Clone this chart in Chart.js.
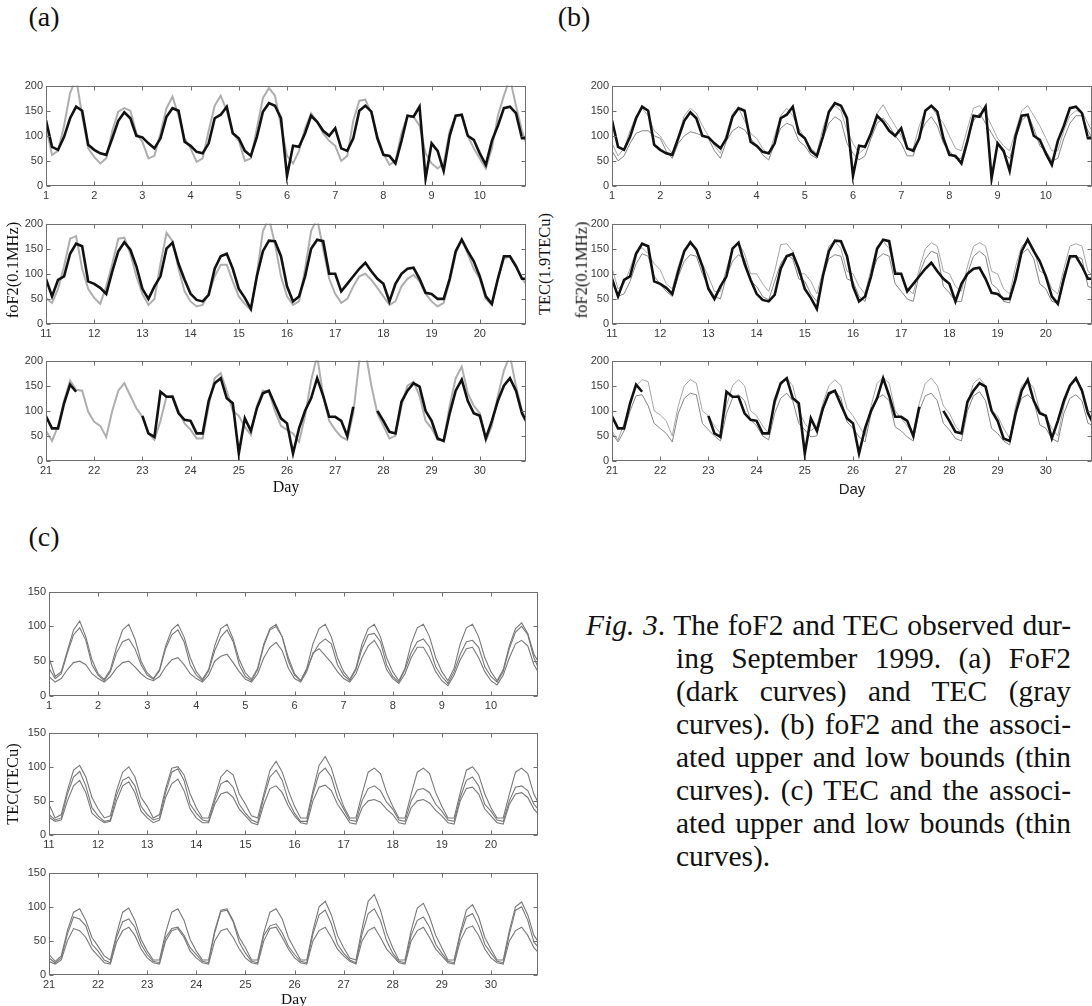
<!DOCTYPE html>
<html>
<head>
<meta charset="utf-8">
<script src="https://cdn.jsdelivr.net/npm/chart.js@4/dist/chart.umd.min.js"></script>
<style>
  body { margin: 0; width: 1092px; height: 1006px; overflow: hidden; background: #fff; position: relative; }
  canvas { position: absolute; }
  .serif { position: absolute; font-family: "Liberation Serif", "Times New Roman", serif; color: #111; white-space: nowrap; line-height: 1; }
  .sans { position: absolute; font-family: "Liberation Sans", Arial, sans-serif; color: #222; white-space: nowrap; line-height: 1; }
  .centered { transform: translate(-50%, -50%); }
  .vertical { transform: translate(-50%, -50%) rotate(-90deg); }
  .capline { position: absolute; font-family: "Liberation Serif", "Times New Roman", serif; font-size: 29.5px; line-height: 33px; color: #111; white-space: nowrap; text-align: justify; text-align-last: justify; }
</style>
</head>
<body>
<script>
// samples every 3 hours, 81 per ten-day row
const samplesPerDay = 8
const rowStarts = [1, 11, 21]
const dayTicks1 = [1, 2, 3, 4, 5, 6, 7, 8, 9, 10]
const dayTicks2 = [11, 12, 13, 14, 15, 16, 17, 18, 19, 20]
const dayTicks3 = [21, 22, 23, 24, 25, 26, 27, 28, 29, 30]
const foF2Ticks = [0, 50, 100, 150, 200]
const tecTicks = [0, 50, 100, 150]

// foF2 (0.1 MHz), shared by (a) and (b)
const foF2_1 = [
  131, 78, 72, 98, 135, 158, 150, 82,
  72, 65, 62, 95, 130, 147, 135, 100,
  97, 85, 75, 95, 138, 155, 150, 88,
  80, 68, 65, 85, 135, 142, 158, 105,
  95, 70, 60, 98, 148, 165, 160, 135,
  20, 80, 78, 105, 140, 128, 110, 100,
  115, 75, 70, 95, 150, 160, 148, 95,
  62, 60, 45, 90, 140, 138, 158, 15,
  85, 70, 30, 100, 140, 142, 100, 92,
  65, 42, 90, 120, 155, 158, 145, 95,
  95]
const foF2_2 = [
  90, 55, 88, 95, 140, 160, 155, 85,
  80, 72, 60, 105, 145, 163, 148, 115,
  70, 50, 75, 95, 150, 162, 120, 88,
  60, 48, 45, 58, 110, 135, 140, 110,
  70, 52, 30, 95, 145, 166, 165, 135,
  75, 45, 55, 95, 150, 168, 165, 100,
  100, 65, 80, 95, 110, 122, 105, 90,
  80, 45, 80, 100, 110, 112, 90, 62,
  60, 50, 50, 90, 145, 168, 145, 125,
  95, 55, 40, 90, 135, 135, 115, 90,
  90]
const foF2_3 = [
  89, 65, 65, 115, 152, 138, null, null,
  null, null, null, null, null, null, null, null,
  90, 55, 48, 138, 128, 128, 95, 82,
  80, 55, 55, 120, 155, 165, 125, 115,
  15, 85, 60, 105, 135, 140, 112, 85,
  75, 15, 65, 100, 125, 165, 130, 88,
  88, 80, 50, 108, null, null, null, 100,
  80, 58, 55, 118, 140, 155, 148, 100,
  80, 45, 40, 95, 140, 162, 120, 95,
  90, 45, 80, 120, 150, 165, 140, 95,
  72]

// TEC in 1.9 TECu, gray curves of (a)
const tecA_1 = [
  120, 62, 70, 120, 185, 215, 140, 75,
  58, 45, 55, 110, 148, 155, 150, 105,
  88, 55, 60, 105, 155, 178, 140, 95,
  75, 48, 55, 110, 160, 180, 150, 105,
  90, 50, 55, 115, 175, 195, 180, 120,
  60, 45, 70, 115, 145, 128, 105, 90,
  80, 50, 60, 130, 170, 172, 145, 100,
  65, 42, 50, 105, 140, 138, 120, 65,
  45, 35, 45, 110, 140, 140, 100, 75,
  55, 35, 75, 140, 180, 215, 160, 110,
  75]
const tecA_2 = [
  52, 42, 70, 115, 170, 175, 110, 70,
  52, 40, 75, 120, 170, 172, 140, 95,
  60, 38, 50, 120, 182, 165, 110, 65,
  45, 35, 38, 60, 95, 118, 118, 85,
  55, 40, 28, 100, 185, 210, 160, 95,
  55, 38, 45, 110, 185, 210, 150, 90,
  60, 42, 50, 75, 95, 100, 88, 72,
  55, 38, 45, 75, 90, 98, 85, 60,
  45, 35, 42, 85, 140, 168, 140, 110,
  90, 50, 38, 90, 130, 135, 118, 90,
  75]
const tecA_3 = [
  60, 40, 70, 120, 160, 142, 140, 98,
  78, 70, 48, 100, 140, 155, 130, 105,
  88, 55, 42, 80, 128, 130, 100, 75,
  62, 45, 45, 110, 165, 175, 140, 100,
  90, 68, 52, 110, 140, 138, 100, 70,
  62, 55, 38, 90, 160, 210, 130, 80,
  62, 48, 42, 95, 200, 220, 150, 95,
  70, 45, 50, 110, 150, 158, 130, 80,
  65, 42, 42, 110, 165, 188, 135, 110,
  95, 40, 70, 130, 180, 210, 150, 100,
  75]

// foF2 upper and low bounds, thin curves of (b)
const upperB_1 = [
  85, 60, 75, 110, 140, 155, 140, 110,
  100, 80, 65, 100, 140, 155, 145, 120,
  100, 80, 65, 105, 145, 155, 130, 105,
  95, 75, 62, 100, 140, 155, 140, 115,
  95, 75, 65, 115, 150, 160, 150, 110,
  85, 65, 75, 110, 145, 162, 140, 120,
  100, 75, 75, 120, 150, 158, 140, 125,
  100, 75, 70, 115, 155, 160, 145, 120,
  95, 80, 70, 110, 150, 160, 140, 120,
  95, 70, 70, 110, 140, 150, 148, 125,
  100]
const lowerB_1 = [
  70, 50, 60, 85, 105, 110, 110, 100,
  95, 70, 55, 85, 100, 108, 105, 100,
  95, 70, 55, 90, 110, 118, 112, 95,
  80, 62, 52, 85, 115, 125, 120, 90,
  80, 62, 55, 95, 125, 138, 130, 85,
  65, 52, 60, 95, 125, 135, 120, 100,
  85, 60, 60, 100, 125, 138, 120, 85,
  70, 55, 55, 95, 130, 145, 125, 105,
  85, 65, 55, 95, 130, 142, 115, 80,
  70, 50, 55, 95, 125, 140, 140, 110,
  90]
const upperB_2 = [
  112, 70, 80, 110, 145, 152, 140, 120,
  108, 80, 70, 115, 150, 158, 150, 120,
  95, 65, 65, 110, 150, 162, 140, 100,
  100, 80, 65, 105, 158, 160, 145, 100,
  100, 85, 60, 105, 155, 165, 150, 105,
  100, 75, 60, 110, 155, 165, 150, 105,
  100, 70, 60, 110, 150, 162, 155, 105,
  100, 75, 65, 115, 155, 162, 155, 105,
  100, 70, 60, 115, 155, 165, 150, 105,
  100, 70, 60, 110, 155, 160, 155, 105,
  95]
const lowerB_2 = [
  95, 55, 60, 85, 120, 140, 135, 95,
  80, 65, 55, 95, 125, 138, 135, 100,
  75, 55, 50, 95, 125, 138, 130, 85,
  75, 55, 48, 85, 120, 138, 130, 90,
  85, 60, 45, 95, 130, 138, 135, 90,
  85, 55, 45, 95, 130, 140, 135, 80,
  65, 50, 45, 100, 130, 145, 140, 75,
  62, 45, 45, 100, 135, 145, 135, 80,
  70, 45, 42, 100, 140, 150, 130, 80,
  70, 45, 42, 100, 130, 135, 130, 75,
  70]
const upperB_3 = [
  60, 42, 75, 115, 150, 162, 158, 100,
  92, 80, 50, 110, 150, 162, 155, 100,
  90, 70, 55, 110, 150, 162, 150, 100,
  90, 70, 55, 110, 150, 165, 150, 100,
  75, 60, 70, 115, 150, 162, 150, 105,
  90, 70, 50, 110, 155, 166, 155, 100,
  85, 70, 55, 115, 155, 165, 150, 110,
  95, 70, 55, 115, 155, 165, 150, 100,
  90, 65, 45, 110, 150, 160, 145, 100,
  90, 65, 50, 110, 150, 160, 145, 100,
  90]
const lowerB_3 = [
  55, 38, 60, 100, 130, 132, 110, 75,
  65, 55, 38, 95, 125, 135, 132, 75,
  62, 50, 40, 95, 125, 132, 120, 82,
  70, 50, 42, 95, 125, 135, 120, 75,
  62, 48, 50, 100, 130, 140, 125, 78,
  65, 48, 38, 95, 125, 132, 120, 68,
  60, 48, 40, 100, 130, 135, 120, 75,
  62, 45, 40, 100, 130, 138, 120, 65,
  55, 40, 32, 95, 125, 132, 120, 72,
  65, 45, 38, 95, 125, 132, 120, 75,
  70]

// TEC (TECu) with its upper and low bounds, (c)
const upperC_1 = [
  55, 28, 35, 65, 95, 108, 85, 52,
  32, 24, 38, 70, 95, 103, 82, 50,
  33, 25, 38, 72, 95, 103, 85, 55,
  35, 24, 38, 72, 97, 103, 82, 52,
  33, 24, 40, 75, 97, 103, 85, 55,
  32, 22, 40, 75, 97, 103, 85, 55,
  35, 24, 40, 75, 97, 103, 85, 55,
  35, 22, 40, 75, 98, 103, 85, 55,
  35, 22, 40, 75, 98, 103, 85, 55,
  35, 22, 38, 72, 97, 105, 90, 60,
  45]
const tecC_1 = [
  40, 25, 32, 62, 88, 98, 80, 45,
  30, 22, 35, 62, 78, 82, 68, 45,
  30, 24, 36, 68, 88, 95, 78, 45,
  30, 22, 36, 65, 85, 95, 78, 45,
  28, 22, 38, 72, 95, 100, 85, 50,
  30, 22, 38, 60, 75, 82, 75, 45,
  30, 22, 38, 68, 88, 90, 78, 45,
  28, 20, 38, 62, 78, 82, 70, 42,
  28, 18, 35, 60, 78, 80, 70, 42,
  28, 20, 35, 68, 92, 100, 88, 55,
  35]
const lowerC_1 = [
  28, 20, 25, 38, 48, 50, 45, 32,
  25, 20, 28, 40, 48, 50, 42, 32,
  25, 22, 28, 42, 52, 55, 45, 32,
  25, 20, 30, 50, 57, 60, 48, 35,
  24, 20, 32, 55, 70, 77, 65, 40,
  25, 20, 35, 62, 68, 58, 48, 35,
  25, 20, 32, 55, 72, 80, 65, 38,
  25, 18, 32, 55, 70, 70, 55, 35,
  22, 15, 30, 52, 68, 70, 55, 35,
  22, 16, 30, 55, 75, 80, 72, 45,
  30]
const upperC_2 = [
  45, 25, 30, 65, 95, 102, 85, 55,
  38, 25, 28, 65, 92, 100, 85, 55,
  42, 25, 30, 68, 98, 100, 88, 60,
  40, 25, 25, 55, 85, 95, 88, 60,
  45, 28, 25, 60, 95, 108, 92, 65,
  42, 25, 25, 65, 102, 115, 98, 68,
  42, 25, 25, 60, 92, 98, 90, 62,
  42, 25, 25, 60, 92, 98, 90, 62,
  42, 25, 25, 62, 95, 100, 88, 60,
  40, 25, 25, 60, 92, 98, 90, 60,
  42]
const tecC_2 = [
  30, 22, 25, 60, 85, 93, 72, 40,
  28, 20, 22, 58, 80, 85, 72, 42,
  30, 22, 25, 62, 92, 97, 80, 45,
  32, 22, 20, 50, 75, 80, 70, 45,
  32, 22, 18, 55, 85, 95, 80, 50,
  32, 20, 20, 60, 90, 98, 85, 55,
  38, 22, 20, 50, 68, 72, 65, 48,
  38, 22, 20, 50, 66, 68, 62, 45,
  35, 22, 20, 55, 80, 85, 72, 45,
  35, 22, 20, 50, 70, 72, 65, 45,
  35]
const lowerC_2 = [
  26, 20, 22, 50, 72, 80, 62, 32,
  24, 18, 20, 50, 72, 78, 62, 35,
  25, 18, 22, 55, 75, 82, 65, 38,
  25, 18, 18, 45, 60, 63, 55, 38,
  28, 18, 15, 45, 68, 72, 62, 42,
  28, 18, 16, 50, 70, 73, 65, 45,
  32, 18, 16, 40, 50, 52, 48, 38,
  30, 18, 16, 40, 50, 52, 47, 36,
  28, 18, 16, 50, 68, 70, 60, 38,
  28, 18, 16, 45, 60, 62, 55, 38,
  28]
const upperC_3 = [
  30, 20, 28, 65, 92, 97, 80, 55,
  42, 28, 22, 60, 92, 98, 80, 52,
  35, 22, 22, 62, 92, 97, 80, 52,
  35, 22, 22, 65, 95, 97, 80, 55,
  40, 22, 22, 62, 92, 97, 82, 55,
  38, 22, 22, 65, 100, 108, 88, 58,
  40, 25, 22, 68, 108, 118, 95, 62,
  40, 22, 22, 65, 98, 105, 85, 58,
  40, 22, 22, 62, 95, 103, 85, 55,
  38, 22, 22, 65, 100, 107, 88, 58,
  45]
const tecC_3 = [
  25, 18, 25, 60, 85, 82, 72, 45,
  35, 22, 18, 55, 78, 82, 70, 45,
  30, 20, 18, 55, 68, 70, 58, 40,
  30, 20, 18, 62, 93, 95, 78, 48,
  32, 20, 18, 58, 72, 75, 62, 42,
  30, 20, 18, 60, 88, 95, 75, 45,
  32, 22, 18, 60, 90, 97, 80, 50,
  32, 20, 18, 58, 80, 85, 70, 45,
  32, 20, 18, 58, 85, 90, 72, 45,
  32, 20, 18, 60, 95, 100, 80, 48,
  38]
const lowerC_3 = [
  20, 16, 22, 50, 68, 65, 55, 38,
  28, 18, 16, 48, 65, 70, 58, 38,
  25, 18, 16, 50, 65, 68, 55, 35,
  25, 18, 16, 50, 65, 68, 55, 38,
  25, 18, 16, 50, 68, 70, 55, 38,
  25, 18, 16, 50, 65, 70, 55, 38,
  28, 20, 16, 50, 65, 70, 55, 38,
  28, 18, 16, 50, 65, 70, 55, 38,
  28, 18, 16, 50, 68, 72, 58, 38,
  25, 18, 16, 50, 65, 70, 58, 40,
  30]

// turn a row of samples into {x, y} points on the day axis
function toPoints(values, start) {
  return values.map((v, i) => ({ x: start + i / samplesPerDay, y: v }))
}

// MATLAB-like box with inward tick marks
const boxTicks = {
  id: 'boxTicks',
  afterDatasetsDraw(chart) {
    const ctx = chart.ctx
    const a = chart.chartArea
    const xs = chart.scales.x, ys = chart.scales.y
    const l = Math.round(a.left) + 0.5, r = Math.round(a.right) - 0.5
    const t = Math.round(a.top) + 0.5, b = Math.round(a.bottom) - 0.5
    ctx.save()
    ctx.strokeStyle = '#6e6e6e'
    ctx.lineWidth = 1
    ctx.strokeRect(l, t, r - l, b - t)
    ctx.beginPath()
    xs.ticks.forEach(tk => {
      const px = Math.round(xs.getPixelForValue(tk.value)) + 0.5
      ctx.moveTo(px, b); ctx.lineTo(px, b - 4)
      ctx.moveTo(px, t); ctx.lineTo(px, t + 4)
    })
    ys.ticks.forEach(tk => {
      const py = Math.round(ys.getPixelForValue(tk.value)) + 0.5
      ctx.moveTo(l, py); ctx.lineTo(l + 4, py)
      ctx.moveTo(r, py); ctx.lineTo(r - 4, py)
    })
    ctx.stroke()
    ctx.restore()
  }
}

const tickFont = { family: '"Liberation Sans", Arial, sans-serif', size: 11 }

function makePanel(box, start, xTicks, yTicks, yMax, series) {
  const padTop = 6, padRight = 6, yAxisW = 40, xAxisH = 22
  const canvas = document.createElement('canvas')
  canvas.width = yAxisW + (box.right - box.left) + padRight
  canvas.height = padTop + (box.bottom - box.top) + xAxisH
  canvas.style.left = (box.left - yAxisW) + 'px'
  canvas.style.top = (box.top - padTop) + 'px'
  document.body.appendChild(canvas)

  new Chart(canvas, {
    type: 'line',
    data: {
      datasets: series.map(s => ({
        data: toPoints(s.values, start),
        borderColor: s.color,
        borderWidth: s.width,
        pointRadius: 0,
        tension: 0,
        spanGaps: false
      }))
    },
    options: {
      responsive: false,
      animation: false,
      events: [],
      layout: { padding: { top: padTop, right: padRight, left: 0, bottom: 0 } },
      plugins: { legend: { display: false }, tooltip: { enabled: false } },
      scales: {
        x: {
          type: 'linear',
          min: start,
          max: start + 10 - 1 / 24,
          grid: { display: false, drawTicks: false },
          border: { display: false },
          afterBuildTicks: s => { s.ticks = xTicks.map(v => ({ value: v })) },
          afterFit: s => { s.height = xAxisH },
          ticks: { font: tickFont, color: '#383838', padding: 3, autoSkip: false, maxRotation: 0 }
        },
        y: {
          min: 0,
          max: yMax,
          grid: { display: false, drawTicks: false },
          border: { display: false },
          afterBuildTicks: s => { s.ticks = yTicks.map(v => ({ value: v })) },
          afterFit: s => { s.width = yAxisW },
          ticks: { font: tickFont, color: '#383838', padding: 3 }
        }
      }
    },
    plugins: [boxTicks]
  })
}

function addText(text, cls, x, y, size) {
  const d = document.createElement('div')
  d.className = cls
  d.textContent = text
  d.style.left = x + 'px'
  d.style.top = y + 'px'
  d.style.fontSize = size + 'px'
  document.body.appendChild(d)
  return d
}

const dayTicks = [dayTicks1, dayTicks2, dayTicks3]
const foF2Rows = [foF2_1, foF2_2, foF2_3]
const tecARows = [tecA_1, tecA_2, tecA_3]
const upperBRows = [upperB_1, upperB_2, upperB_3]
const lowerBRows = [lowerB_1, lowerB_2, lowerB_3]
const upperCRows = [upperC_1, upperC_2, upperC_3]
const tecCRows = [tecC_1, tecC_2, tecC_3]
const lowerCRows = [lowerC_1, lowerC_2, lowerC_3]

const rowsAB = [[82, 186], [220, 324], [357, 461]]
const rowsC = [[588, 696], [729, 835], [869, 975]]

rowsAB.forEach((rw, k) => {
  // (a) foF2 dark, TEC gray
  makePanel({ left: 46, right: 526, top: rw[0], bottom: rw[1] }, rowStarts[k], dayTicks[k], foF2Ticks, 200, [
    { values: foF2Rows[k], color: '#111', width: 2.6 },
    { values: tecARows[k], color: '#aeaeae', width: 2 }
  ])
  // (b) foF2 with thin bounds
  makePanel({ left: 612, right: 1092, top: rw[0], bottom: rw[1] }, rowStarts[k], dayTicks[k], foF2Ticks, 200, [
    { values: foF2Rows[k], color: '#111', width: 2.6 },
    { values: upperBRows[k], color: '#a6a6a6', width: 1 },
    { values: lowerBRows[k], color: '#858585', width: 1 }
  ])
})

rowsC.forEach((rw, k) => {
  makePanel({ left: 49, right: 538, top: rw[0], bottom: rw[1] }, rowStarts[k], dayTicks[k], tecTicks, 150, [
    { values: upperCRows[k], color: '#787878', width: 1.1 },
    { values: tecCRows[k], color: '#787878', width: 1.1 },
    { values: lowerCRows[k], color: '#787878', width: 1.1 }
  ])
})

// panel letters
addText('(a)', 'serif centered', 44, 17, 28)
addText('(b)', 'serif centered', 574, 17, 28)
addText('(c)', 'serif centered', 44, 537, 28)

// axis titles
addText('foF2(0.1MHz)', 'serif vertical', 13, 270, 16.5)
addText('Day', 'serif centered', 286, 487, 16)
addText('TEC(1.9TECu)', 'serif vertical', 545, 264, 16.5)
addText('foF2(0.1MHz)', 'serif vertical', 582, 270, 16.5)
addText('Day', 'sans centered', 852, 488, 15)
addText('TEC(TECu)', 'serif vertical', 13, 784, 16.5)
addText('Day', 'serif centered', 294, 999, 15.5)

// figure caption, justified lines with hanging indent
const captionLines = [
  'The foF2 and TEC observed dur-',
  'ing September 1999. (a) FoF2',
  '(dark curves) and TEC (gray',
  'curves). (b) foF2 and the associ-',
  'ated upper and low bounds (thin',
  'curves). (c) TEC and the associ-',
  'ated upper and low bounds (thin',
  'curves).'
]
const capLeft = 586, capIndent = 676, capRight = 1071, capTop = 609, capStep = 33
captionLines.forEach((line, i) => {
  const d = document.createElement('div')
  d.className = 'capline'
  d.style.top = (capTop + i * capStep) + 'px'
  if (i === 0) {
    d.style.left = capLeft + 'px'
    d.style.width = (capRight - capLeft) + 'px'
    const em = document.createElement('i')
    em.textContent = 'Fig. 3'
    d.appendChild(em)
    d.appendChild(document.createTextNode('. ' + line))
  } else {
    d.style.left = capIndent + 'px'
    d.textContent = line
    if (i < captionLines.length - 1) d.style.width = (capRight - capIndent) + 'px'
    else d.style.textAlignLast = 'left'
  }
  document.body.appendChild(d)
})
</script>
</body>
</html>
